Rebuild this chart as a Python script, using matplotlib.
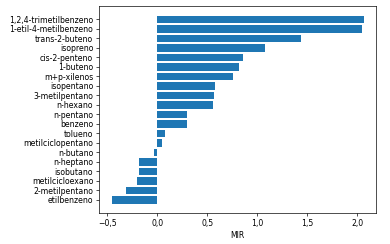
import matplotlib
matplotlib.use("Agg")
import matplotlib.pyplot as plt
from matplotlib.ticker import FuncFormatter, MultipleLocator

compounds = [
    "1,2,4-trimetilbenzeno", "1-etil-4-metilbenzeno", "trans-2-buteno", "isopreno",
    "cis-2-penteno", "1-buteno", "m+p-xilenos", "isopentano", "3-metilpentano",
    "n-hexano", "n-pentano", "benzeno", "tolueno", "metilciclopentano", "n-butano",
    "n-heptano", "isobutano", "metilcicloexano", "2-metilpentano", "etilbenzeno",
]
mir = [
    2.067, 2.053, 1.437, 1.083, 0.857, 0.82, 0.76, 0.58, 0.567, 0.557,
    0.30, 0.30, 0.074, 0.047, -0.036, -0.186, -0.186, -0.206, -0.316, -0.456,
]
xlabel = "MIR"

plt.rcParams["font.size"] = 9.1
fig = plt.figure(figsize=(6.4, 4), dpi=61)
ax = fig.add_axes([0.254, 0.127, 0.71, 0.848])
ax.barh(compounds, mir, color="#1f77b4")
ax.invert_yaxis()
ax.set_xlabel(xlabel)
ax.xaxis.set_major_locator(MultipleLocator(0.5))
ax.xaxis.set_major_formatter(FuncFormatter(lambda v, p: f"{v:.1f}".replace(".", ",").replace("-", "\u2212")))
fig.savefig("out.png", dpi=61)
